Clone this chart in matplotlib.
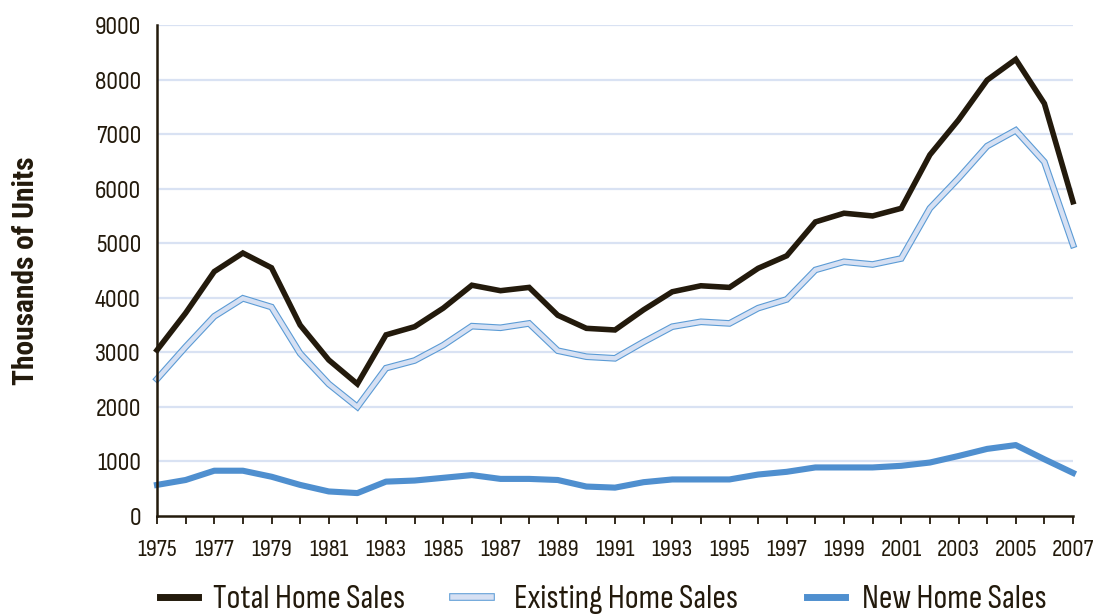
import matplotlib
matplotlib.use("Agg")
import matplotlib.pyplot as plt
from matplotlib.lines import Line2D
from matplotlib.textpath import TextPath
from matplotlib.font_manager import FontProperties
import matplotlib.patheffects as pe

years = list(range(1975, 2008))
total_sales = [3040, 3720, 4480, 4820, 4550, 3500, 2860, 2420, 3320, 3470, 3810,
               4230, 4130, 4190, 3680, 3440, 3410, 3780, 4110, 4220, 4190, 4540,
               4770, 5390, 5550, 5500, 5640, 6620, 7260, 7990, 8370, 7560, 5760]
existing_sales = [2510, 3100, 3660, 3990, 3830, 2980, 2420, 2000, 2710, 2850, 3130,
                  3480, 3450, 3530, 3030, 2920, 2890, 3190, 3470, 3560, 3530, 3810,
                  3970, 4510, 4660, 4610, 4720, 5640, 6190, 6780, 7070, 6490, 4970]
new_sales = [570, 660, 830, 830, 720, 570, 450, 420, 630, 650, 700,
             750, 680, 680, 660, 540, 520, 620, 670, 670, 670, 760,
             810, 890, 890, 890, 920, 980, 1100, 1230, 1300, 1040, 790]
y_ticks = [0, 1000, 2000, 3000, 4000, 5000, 6000, 7000, 8000, 9000]
series_labels = ["Total Home Sales", "Existing Home Sales", "New Home Sales"]

DARK = "#231a0c"
BLUE = "#4f8fcf"
EDGE = "#5b9bd5"
LIGHT = "#d6e0f3"
GRID = "#d9e2f3"
FONT = ["Sofia Sans Condensed", "Roboto Condensed", "Liberation Sans", "DejaVu Sans"]
BOLD_FONT = ["Roboto Condensed", "Liberation Sans", "DejaVu Sans"]

plt.rcParams["font.family"] = FONT


def fit_size(text, target_px, family, weight="normal"):
    fp = FontProperties(family=family, size=100, weight=weight)
    w = TextPath((0, 0), text, prop=fp).get_extents().width
    return 72 * target_px / w


fs_xtick = fit_size("1975", 38, FONT)
fs_ytick = fit_size("9000", 44, FONT)
fs_leg = fit_size("Total Home Sales", 190, FONT)
fs_ylab = fit_size("Thousands of Units", 227, BOLD_FONT, "bold")

fig = plt.figure(figsize=(10.93, 6.15), dpi=100)
ax = fig.add_axes([157/1093, 1 - 516/615, (1073-157)/1093, (516-25)/615])

ax.set_xlim(1975, 2007)
ax.set_ylim(0, 9000)

for v in y_ticks[1:]:
    ax.axhline(v, color=GRID, lw=1.6, zorder=0)

ax.plot(years, total_sales, color=DARK, lw=4.0, solid_joinstyle="miter", zorder=3,
        clip_on=False)
ax.plot(years, existing_sales, color=EDGE, lw=4.8, solid_joinstyle="miter", zorder=2,
        clip_on=False)
ax.plot(years, existing_sales, color=LIGHT, lw=3.2, solid_joinstyle="miter", zorder=2.1,
        clip_on=False)
ax.plot(years, new_sales, color=BLUE, lw=4.4, solid_joinstyle="round", zorder=2.5,
        clip_on=False)

ax.set_yticks(y_ticks)
ax.set_yticklabels([str(v) for v in y_ticks], fontsize=fs_ytick, color=DARK)
ax.tick_params(axis="y", length=0, pad=11.5)

ax.set_xticks(years)
ax.set_xticklabels([str(y) if y % 2 == 1 else "" for y in years], fontsize=fs_xtick, color=DARK)
ax.tick_params(axis="x", direction="out", length=6, width=1.3, color=DARK, pad=10.5)

for s in ["top", "right"]:
    ax.spines[s].set_visible(False)
for s in ["left", "bottom"]:
    ax.spines[s].set_color(DARK)
    ax.spines[s].set_linewidth(1.8)

ax.set_ylabel("Thousands of Units", fontsize=fs_ylab, fontweight="bold", color=DARK,
              family=BOLD_FONT)
ax.yaxis.set_label_coords(-0.128, 0.5)

em = fs_leg * 100 / 72
handles = [
    Line2D([], [], color=DARK, lw=5),
    Line2D([], [], color=LIGHT, lw=4,
           path_effects=[pe.Stroke(linewidth=5.5, foreground=EDGE), pe.Normal()]),
    Line2D([], [], color=BLUE, lw=5),
]
starts = [160, 453, 807]
text_starts = [213, 514, 862]
for h, lab, x0, tx in zip(handles, series_labels, starts, text_starts):
    leg = fig.legend([h], [lab], loc="lower left", bbox_to_anchor=(x0/1093, 0.001),
                     frameon=False, fontsize=fs_leg, handlelength=38/em,
                     handletextpad=(tx - x0 - 38)/em, borderpad=0, borderaxespad=0)
    for t in leg.get_texts():
        t.set_color(DARK)

fig.savefig("out.png", dpi=100)
